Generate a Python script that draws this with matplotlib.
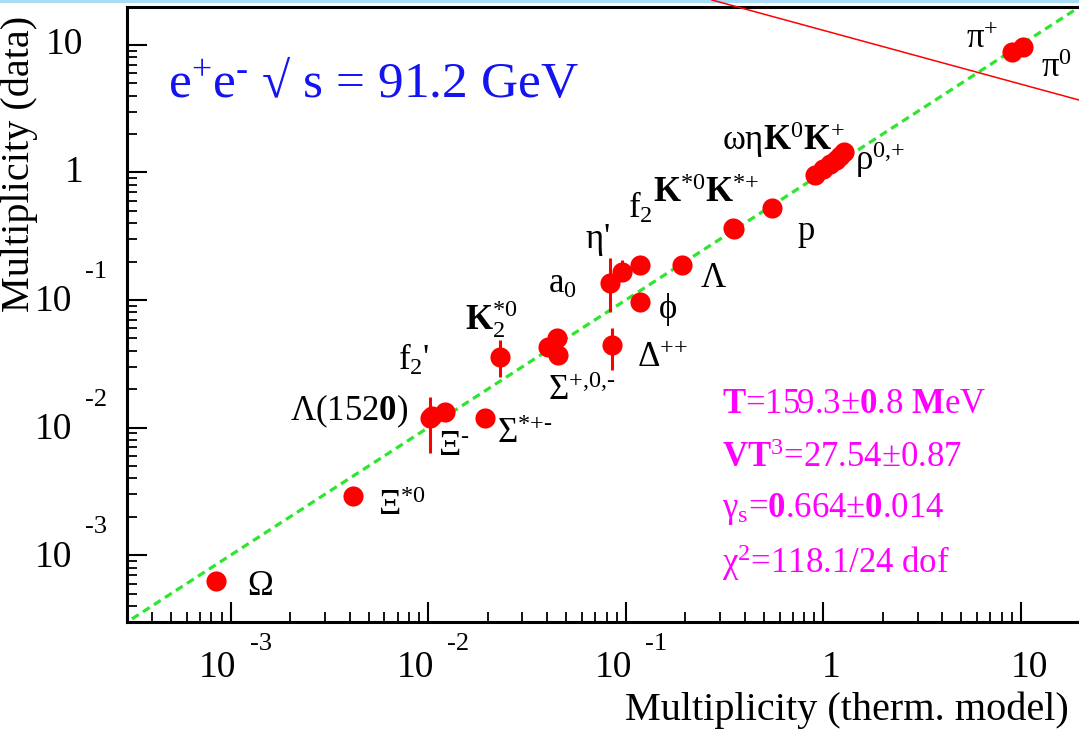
import numpy as np
import matplotlib
matplotlib.use("Agg")
import matplotlib.pyplot as plt
from matplotlib.ticker import LogLocator, NullFormatter
from matplotlib.transforms import Affine2D, offset_copy
from matplotlib.lines import Line2D
from matplotlib.patches import Rectangle

plt.rcParams['font.family'] = ['Liberation Serif', 'DejaVu Serif']
plt.rcParams['mathtext.fontset'] = 'custom'
plt.rcParams['mathtext.rm'] = 'Liberation Serif'
plt.rcParams['mathtext.it'] = 'Liberation Serif:italic'
plt.rcParams['mathtext.bf'] = 'Liberation Serif:bold'
plt.rcParams['mathtext.default'] = 'regular'

# ---- hadron multiplicities: thermal model (x) vs measured (y) ----
particles = ['Omega', 'Xi*0', "f2'", 'Lambda(1520)', 'Xi-', 'Sigma*+-', 'K2*0',
             'Sigma+', 'Sigma0', 'Sigma-', 'Delta++', "eta'", 'a0', 'f2', 'phi',
             'Lambda', 'K*0', 'K*+', 'p', 'omega', 'eta', 'K0', 'K+', 'rho0',
             'rho+', 'pi+', 'pi0']
mult_model = [8.43e-4, 4.16e-3, 0.01021, 0.01045, 0.01216, 0.01938, 0.02309,
              0.04040, 0.04484, 0.04537, 0.0852, 0.0832, 0.0957, 0.118, 0.118,
              0.1925, 0.3487, 0.3540, 0.5493, 0.9068, 0.9954, 1.080, 1.158,
              1.213, 1.271, 9.005, 10.23]
mult_data = [6.28e-4, 2.91e-3, 0.01188, 0.01233, 0.01323, 0.01188, 0.03575,
             0.04281, 0.05038, 0.03707, 0.04439, 0.1359, 0.1657, 0.188, 0.0965,
             0.188, 0.3666, 0.3620, 0.526, 0.954, 1.063, 1.164, 1.251,
             1.345, 1.445, 8.78, 9.61]
# measured points with visible uncertainties: (name, low, high)
err_names = ["f2'", 'K2*0', 'Delta++', "eta'", 'a0']
err_low = [0.00632, 0.02492, 0.02828, 0.0805, 0.140]
err_high = [0.01738, 0.0486, 0.0603, 0.2134, 0.205]

x_ticks = [1e-3, 1e-2, 1e-1, 1, 10]
y_ticks = [1e-3, 1e-2, 1e-1, 1, 10]
tick_mantissa = ['10', '10', '10', '1', '10']
tick_exponent = ['-3', '-2', '-1', '', '']

fit_lines = ['$\\mathbf{T}$=159.3$\\pm$$\\mathbf{0}$.8 $\\mathbf{M}$eV',
             '$\\mathbf{VT}^3$=27.54$\\pm$0.87',
             '$\\gamma_s$=$\\mathbf{0}$.664$\\pm$$\\mathbf{0}$.014',
             '$\\chi^2$=118.1/24 dof']

W, H = 1079, 729
fig = plt.figure(figsize=(W / 100, H / 100), dpi=100)
fig.patch.set_facecolor('white')

# pixel helper: (x from left, y from top) in dots
PX = Affine2D().scale(0.01, -0.01).translate(0, H / 100) + fig.dpi_scale_trans

ax = fig.add_axes([127 / W, (H - 622) / H, (1100 - 127) / W, (622 - 7) / H])
ax.set_xscale('log')
ax.set_yscale('log')
ax.set_xlim(10 ** -3.524, 10 ** 1.400)
ax.set_ylim(10 ** -3.523, 10 ** 1.296)

for s in ax.spines.values():
    s.set_linewidth(2.2)
ax.xaxis.set_major_locator(LogLocator(base=10, numticks=20))
ax.yaxis.set_major_locator(LogLocator(base=10, numticks=20))
ax.xaxis.set_minor_locator(LogLocator(base=10, subs=np.arange(2, 10), numticks=50))
ax.yaxis.set_minor_locator(LogLocator(base=10, subs=np.arange(2, 10), numticks=50))
ax.xaxis.set_minor_formatter(NullFormatter())
ax.yaxis.set_minor_formatter(NullFormatter())
ax.tick_params(which='major', direction='in', length=14.5, width=1.5,
               labelbottom=False, labelleft=False)
ax.tick_params(which='minor', direction='in', length=7, width=1.3)

# diagonal y = x
diag = np.array([1e-4, 1e2])
ax.plot(diag, diag, color='#2fe62f', lw=2.3, linestyle=(0, (2.5, 1.6)), zorder=2)

# error bars and points
for nm, lo, hi in zip(err_names, err_low, err_high):
    i = particles.index(nm)
    ax.plot([mult_model[i], mult_model[i]], [lo, hi], color='red', lw=2.2,
            solid_capstyle='butt', zorder=3)
ax.plot(mult_model, mult_data, 'o', color='#ff0000', ms=14.5, mec='none', zorder=4)

# tick labels
FS_TICK = 27
FS_EXP = 19
for v, m, e in zip(x_ticks, tick_mantissa, tick_exponent):
    base = ax.get_xaxis_transform()
    if e:
        ax.text(v, 0, m, fontsize=FS_TICK, ha='right', va='center',
                transform=offset_copy(base, fig=fig, x=6, y=-46, units='dots'))
        ax.text(v, 0, e, fontsize=FS_EXP, ha='left', va='center',
                transform=offset_copy(base, fig=fig, x=19, y=-22, units='dots'))
    else:
        ax.text(v, 0, m, fontsize=FS_TICK, ha='center', va='center',
                transform=offset_copy(base, fig=fig, x=8, y=-46, units='dots'))
for v, m, e in zip(y_ticks, tick_mantissa, tick_exponent):
    base = ax.get_yaxis_transform()
    if e:
        ax.text(0, v, m, fontsize=FS_TICK, ha='right', va='center',
                transform=offset_copy(base, fig=fig, x=-55, y=-2, units='dots'))
        ax.text(0, v, e, fontsize=FS_EXP, ha='left', va='center',
                transform=offset_copy(base, fig=fig, x=-42, y=28, units='dots'))
    else:
        ax.text(0, v, m, fontsize=FS_TICK, ha='right', va='center',
                transform=offset_copy(base, fig=fig, x=-44, y=0, units='dots'))

# axis titles
fig.text(625, 720, 'Multiplicity (therm. model)', fontsize=29, ha='left',
         va='baseline', transform=PX)
fig.text(19, 312, 'Multiplicity (data)', fontsize=29, rotation=90,
         ha='center', va='bottom', transform=PX)

# energy header
fig.text(168, 97, 'e$^{\\text{+}}$e$^{\\text{-}}$ \u221a s = 91.2 GeV', fontsize=37,
         color='#1414f0', ha='left', va='baseline', transform=PX)

# particle names
FS_LAB = 25
labels = [
    ('$\\pi^{\\text{+}}$', 966, 48), ('$\\pi^0$', 1041, 77),
    ('$\\omega\\eta\\mathbf{K}^0\\mathbf{K}^{\\text{+}}$', 722, 150),
    ('$\\rho^{\\text{0,+}}$', 855, 170), ('p', 798, 240),
    ('f$_2$', 628, 218), ('$\\mathbf{K}^{\\text{*0}}\\mathbf{K}^{\\text{*+}}$', 653, 202),
    ("$\\eta$'", 585, 248), ('a$_0$', 548, 293), ('$\\Lambda$', 700, 287),
    ('$\\phi$', 658, 318), ('$\\Delta^{\\text{++}}$', 637, 367),
    ('$\\Sigma^{\\text{+,0,-}}$', 548, 400), ('$\\mathbf{K}_2^{\\text{*0}}$', 465, 330),
    ("f$_2$'", 398, 370), ('$\\Lambda$(152$\\mathbf{0}$)', 290, 420),
    ('$\\Xi^{\\text{-}}$', 438, 455), ('$\\Sigma^{\\text{*+-}}$', 497, 443),
    ('$\\Xi^{\\text{*0}}$', 378, 515), ('$\\Omega$', 247, 595),
]
for txt, px, py in labels:
    fig.text(px, py, txt, fontsize=FS_LAB, ha='left', va='baseline', transform=PX)

# fit results
for k, txt in enumerate(fit_lines):
    fig.text(722, [413, 467, 517, 573][k], txt, fontsize=25, color='#ff00ff',
             ha='left', va='baseline', transform=PX)

# frame decoration at top edge and overlay stroke
fig.add_artist(Rectangle((0, 1 - 3 / H), 1, 3 / H, transform=fig.transFigure,
                         color='#a9dcf5', lw=0))
fig.add_artist(Line2D([712 / W, 1.0], [1.0, 1 - 100 / H], transform=fig.transFigure,
                      color='red', lw=1.1))

fig.savefig('out.png', dpi=100)
